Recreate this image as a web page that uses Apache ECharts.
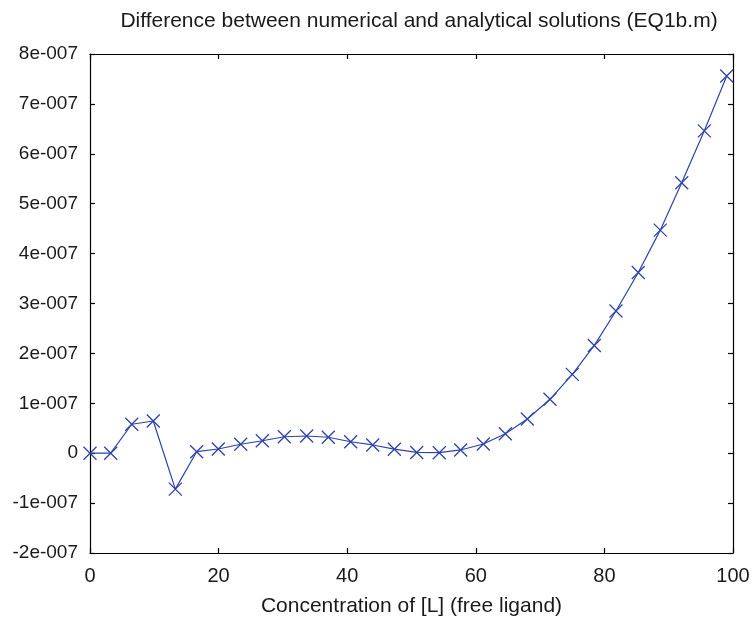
<!DOCTYPE html>
<html>
<head>
<meta charset="utf-8">
<script src="https://cdn.jsdelivr.net/npm/echarts@6/dist/echarts.min.js"></script>
<style>html,body{margin:0;padding:0;background:#fff;}#c{width:752px;height:618px;}</style>
</head>
<body>
<div id="c"></div>
<script>
const titleText = 'Difference between numerical and analytical solutions (EQ1b.m)';
const xAxisName = 'Concentration of [L] (free ligand)';
const concentration = [0, 3.22, 6.49, 9.84, 13.27, 16.59, 19.95, 23.44, 26.80, 30.22, 33.70, 37.06, 40.54, 43.97, 47.33, 50.81, 54.32, 57.65, 61.17, 64.59, 68.01, 71.54, 75.01, 78.43, 81.80, 85.27, 88.69, 92.02, 95.54, 99.02];
const difference = [0, 0, 0.58e-7, 0.645e-7, -0.72e-7, 0.03e-7, 0.084e-7, 0.18e-7, 0.25e-7, 0.33e-7, 0.345e-7, 0.32e-7, 0.23e-7, 0.165e-7, 0.08e-7, 0.015e-7, 0.01e-7, 0.065e-7, 0.185e-7, 0.39e-7, 0.685e-7, 1.08e-7, 1.58e-7, 2.16e-7, 2.85e-7, 3.62e-7, 4.47e-7, 5.42e-7, 6.46e-7, 7.56e-7];
const xTicks = [0, 20, 40, 60, 80, 100];
const yTicks = [-2e-7, -1e-7, 0, 1e-7, 2e-7, 3e-7, 4e-7, 5e-7, 6e-7, 7e-7, 8e-7];

const FONT = '"Liberation Sans", Arial, Helvetica, sans-serif';
const TXT = '#1a1a1a';
const LINE = '#2f43a8';

const yFmt = v => { const k = Math.round(v * 1e7); return k === 0 ? '0' : k + 'e-007'; };

const chart = echarts.init(document.getElementById('c'), null, {renderer: 'canvas'});
const axisLine = {show: true, onZero: false, lineStyle: {color: '#000', width: 1.2}};
const axisTick = {show: true, inside: true, length: 5, lineStyle: {color: '#000', width: 1.2}};
chart.setOption({
  animation: false,
  title: {
    text: titleText, left: 414, top: 6, textAlign: 'center',
    textStyle: {fontFamily: FONT, fontSize: 21, fontWeight: 'normal', color: TXT}
  },
  grid: {left: 90, right: 19, top: 54, bottom: 65, containLabel: false, outerBoundsMode: 'none'},
  xAxis: [{
    type: 'value', min: xTicks[0], max: xTicks[xTicks.length - 1], interval: 20, position: 'bottom',
    name: xAxisName, nameLocation: 'middle', nameGap: 43,
    nameTextStyle: {fontFamily: FONT, fontSize: 21, color: TXT},
    axisLine, axisTick, splitLine: {show: false},
    axisLabel: {fontFamily: FONT, fontSize: 20, color: TXT, margin: 13}
  }, {
    type: 'value', min: xTicks[0], max: xTicks[xTicks.length - 1], interval: 20, position: 'top',
    axisLine, axisTick, splitLine: {show: false}, axisLabel: {show: false}
  }],
  yAxis: [{
    type: 'value', min: yTicks[0], max: yTicks[yTicks.length - 1], interval: 1e-7, position: 'left',
    axisLine, axisTick, splitLine: {show: false},
    axisLabel: {fontFamily: FONT, fontSize: 19, color: TXT, margin: 12, formatter: yFmt, padding: [6, 0, 0, 0]}
  }, {
    type: 'value', min: yTicks[0], max: yTicks[yTicks.length - 1], interval: 1e-7, position: 'right',
    axisLine, axisTick, splitLine: {show: false}, axisLabel: {show: false}
  }],
  series: [{
    type: 'line',
    data: concentration.map((x, i) => [x, difference[i]]),
    xAxisIndex: 0, yAxisIndex: 0,
    symbol: 'path://M0,0L10,10M10,0L0,10',
    symbolSize: 13,
    itemStyle: {color: 'rgba(0,0,0,0)', borderColor: LINE, borderWidth: 1.3},
    lineStyle: {color: LINE, width: 1.2},
    clip: false
  }]
});
</script>
</body>
</html>
